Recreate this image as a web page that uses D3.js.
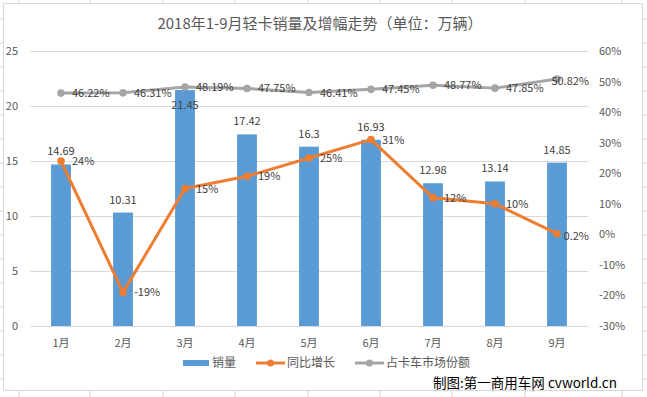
<!DOCTYPE html>
<html lang="zh">
<head>
    <meta charset="UTF-8">
    <title>2018年1-9月轻卡销量及增幅走势</title>
    <style>
        body { margin: 0; background: #fff; }
        text { font-family: "Noto Sans CJK SC", "Noto Sans", sans-serif; }
    </style>
</head>
<body>
    <div id="chart"></div>

    <script src="https://cdn.jsdelivr.net/npm/d3@7"></script>

    <script>
        const months = ["1月", "2月", "3月", "4月", "5月", "6月", "7月", "8月", "9月"];
        const sales = [14.69, 10.31, 21.45, 17.42, 16.3, 16.93, 12.98, 13.14, 14.85];
        const growth = [24, -19, 15, 19, 25, 31, 12, 10, 0.2];
        const share = [46.22, 46.31, 48.19, 47.75, 46.41, 47.45, 48.77, 47.85, 50.82];
        const growthLabels = ["24%", "-19%", "15%", "19%", "25%", "31%", "12%", "10%", "0.2%"];
        const leftTicks = [0, 5, 10, 15, 20, 25];
        const rightTicks = [-30, -20, -10, 0, 10, 20, 30, 40, 50, 60];

        const W = 647, H = 397;
        const plot = { left: 30, right: 588, top: 51, bottom: 326 };

        const svg = d3.select("#chart")
            .append("svg")
            .attr("width", W)
            .attr("height", H);

        // spreadsheet cell lines peeking around the chart box
        const cols = [19, 90, 163, 235, 308, 380, 452, 525, 622];
        const rows = d3.range(19, H, 24);
        svg.append("g").selectAll("line.c")
            .data(cols)
            .enter().append("line")
            .attr("x1", d => d).attr("x2", d => d)
            .attr("y1", 0).attr("y2", H)
            .attr("stroke", "#d4d4d4");
        svg.append("g").selectAll("line.r")
            .data(rows)
            .enter().append("line")
            .attr("x1", 0).attr("x2", W)
            .attr("y1", d => d).attr("y2", d => d)
            .attr("stroke", "#d4d4d4");

        svg.append("rect")
            .attr("x", 3.5).attr("y", 3.5)
            .attr("width", 639).attr("height", 387)
            .attr("fill", "#fff")
            .attr("stroke", "#d9d9d9");

        svg.append("text")
            .attr("x", 320).attr("y", 29)
            .attr("text-anchor", "middle")
            .style("font-size", "15px")
            .style("fill", "#595959")
            .text("2018年1-9月轻卡销量及增幅走势（单位：万辆）");

        const x = d3.scaleBand()
            .domain(months)
            .range([plot.left, plot.right])
            .paddingInner(0.68)
            .paddingOuter(0.34);
        const cx = m => x(m) + x.bandwidth() / 2;

        const y = d3.scaleLinear().domain([0, 25]).range([plot.bottom, plot.top]);
        const y2 = d3.scaleLinear().domain([-30, 60]).range([plot.bottom, plot.top]);

        // gridlines
        svg.append("g").selectAll("line")
            .data(leftTicks)
            .enter().append("line")
            .attr("x1", plot.left).attr("x2", plot.right)
            .attr("y1", d => Math.round(y(d)) + 0.5)
            .attr("y2", d => Math.round(y(d)) + 0.5)
            .attr("stroke", "#d9d9d9");

        svg.append("g").selectAll("text")
            .data(leftTicks)
            .enter().append("text")
            .attr("x", 18).attr("y", d => y(d) + 4)
            .attr("text-anchor", "end")
            .style("font-size", "11px")
            .style("fill", "#595959")
            .text(d => d);

        svg.append("g").selectAll("text")
            .data(rightTicks)
            .enter().append("text")
            .attr("x", 599).attr("y", d => y2(d) + 4)
            .style("font-size", "11px")
            .style("fill", "#595959")
            .text(d => d + "%");

        svg.append("g").selectAll("text")
            .data(months)
            .enter().append("text")
            .attr("x", d => cx(d)).attr("y", 347)
            .attr("text-anchor", "middle")
            .style("font-size", "11px")
            .style("fill", "#595959")
            .text(d => d);

        // bars
        svg.append("g").selectAll("rect")
            .data(sales)
            .enter().append("rect")
            .attr("x", (d, i) => x(months[i]))
            .attr("y", d => y(d))
            .attr("width", x.bandwidth())
            .attr("height", d => y(0) - y(d))
            .attr("fill", "#5b9bd5");

        svg.append("g").selectAll("text")
            .data(sales)
            .enter().append("text")
            .attr("x", (d, i) => cx(months[i]))
            .attr("y", d => d > 20 ? y(d) + 19 : y(d) - 9)
            .attr("text-anchor", "middle")
            .style("font-size", "11px")
            .style("fill", "#404040")
            .text(d => d);

        // lines
        function drawLine(values, scale, color, labels) {
            const line = d3.line()
                .x((d, i) => cx(months[i]))
                .y(d => scale(d));
            svg.append("path")
                .datum(values)
                .attr("d", line)
                .attr("fill", "none")
                .attr("stroke", color)
                .attr("stroke-width", 3)
                .attr("stroke-linejoin", "round");
            svg.append("g").selectAll("circle")
                .data(values)
                .enter().append("circle")
                .attr("cx", (d, i) => cx(months[i]))
                .attr("cy", d => scale(d))
                .attr("r", 3.8)
                .attr("fill", color);
            const n = values.length;
            svg.append("g").selectAll("text")
                .data(values)
                .enter().append("text")
                .each(function (d, i) {
                    // keep a label that would run into the right axis inside the plot
                    const px = cx(months[i]) + 11;
                    const t = d3.select(this)
                        .attr("y", scale(d) + 4)
                        .style("font-size", "11px")
                        .style("fill", "#404040")
                        .text(labels[i]);
                    if (i === n - 1 && px + this.getComputedTextLength() > plot.right + 4) {
                        t.attr("x", plot.right + 1).attr("y", scale(d) + 6).attr("text-anchor", "end");
                    } else {
                        t.attr("x", px);
                    }
                });
        }

        drawLine(share, y2, "#a5a5a5", share.map(d => d.toFixed(2) + "%"));
        drawLine(growth, y2, "#ed7d31", growthLabels);

        // legend
        const legend = svg.append("g").style("font-size", "12px");
        legend.append("rect")
            .attr("x", 183).attr("y", 360)
            .attr("width", 26).attr("height", 6)
            .attr("fill", "#5b9bd5");
        legend.append("text").attr("x", 212).attr("y", 367)
            .style("fill", "#595959").text("销量");

        [["#ed7d31", 256, "同比增长"], ["#a5a5a5", 355, "占卡车市场份额"]].forEach(([c, lx, t]) => {
            legend.append("line")
                .attr("x1", lx).attr("x2", lx + 29)
                .attr("y1", 363).attr("y2", 363)
                .attr("stroke", c).attr("stroke-width", 3);
            legend.append("circle")
                .attr("cx", lx + 14.5).attr("cy", 363).attr("r", 3.5)
                .attr("fill", c);
            legend.append("text").attr("x", lx + 31).attr("y", 367)
                .style("fill", "#595959").text(t);
        });

        svg.append("text")
            .attr("x", 617).attr("y", 388)
            .attr("text-anchor", "end")
            .style("font-size", "13.5px")
            .style("fill", "#000")
            .text("制图:第一商用车网 cvworld.cn");
    </script>
</body>
</html>
